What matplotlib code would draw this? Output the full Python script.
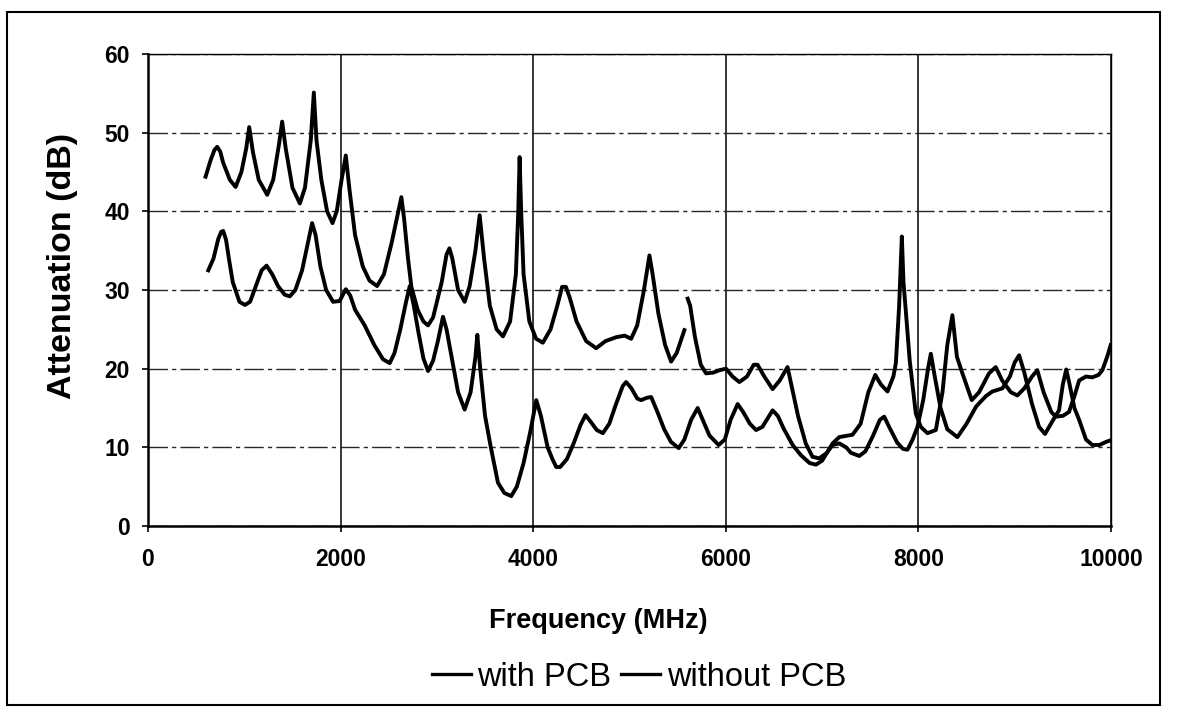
import numpy as np
import matplotlib
matplotlib.use("Agg")
import matplotlib.pyplot as plt
from matplotlib.patches import Rectangle

# frequency (MHz) / attenuation (dB)
# NaN marks the short break in the upper trace near 5.6 GHz
freq_a = [598, 650, 690, 719, 750, 780, 850, 910, 970, 1020, 1051, 1090, 1150, 1238, 1300,
          1360, 1393, 1430, 1500, 1577, 1630, 1690, 1722, 1750, 1800, 1860, 1916, 1960,
          2010, 2054, 2090, 2150, 2230, 2300, 2379, 2450, 2530, 2600, 2631, 2660, 2700,
          2735, 2800, 2860, 2908, 2960, 3050, 3100, 3130, 3160, 3220, 3288, 3340, 3400,
          3444, 3490, 3550, 3620, 3686, 3760, 3820, 3845, 3859, 3875, 3900, 3960, 4030,
          4100, 4180, 4250, 4300, 4340, 4380, 4450, 4550, 4654, 4750, 4862, 4950, 5017,
          5080, 5150, 5207, 5240, 5300, 5370, 5432, 5490, 5540, 5570, 5587, 5604, 5630,
          5680, 5740, 5795, 5870, 5933, 6002, 6070, 6141, 6220, 6290, 6330, 6400, 6486,
          6560, 6641, 6680, 6750, 6830, 6900, 6971, 7050, 7109, 7178, 7316, 7400, 7480,
          7552, 7610, 7679, 7740, 7766, 7800, 7828, 7845, 7863, 7910, 7973, 8025, 8094,
          8181, 8250, 8300, 8353, 8400, 8457, 8554, 8630, 8733, 8803, 8870, 8960, 9028,
          9100, 9180, 9235, 9300, 9380, 9425, 9500, 9564, 9620, 9669, 9740, 9806, 9870,
          9910, 9960, 9997]
att_a = [44.4, 46.5, 47.8, 48.2, 47.6, 46.2, 44.0, 43.1, 45.0, 48.0, 50.7, 47.5, 44.0, 42.1,
         44.0, 48.5, 51.4, 48.0, 43.0, 41.0, 43.0, 49.0, 55.1, 49.0, 44.0, 40.0, 38.5,
         40.0, 44.0, 47.1, 43.0, 37.0, 33.0, 31.2, 30.5, 32.0, 36.0, 40.0, 41.8, 39.0,
         34.0, 30.4, 27.5, 26.0, 25.5, 26.5, 31.0, 34.5, 35.3, 34.0, 30.0, 28.5, 30.5,
         35.0, 39.5, 34.0, 28.0, 25.0, 24.1, 26.0, 32.0, 40.0, 46.9, 40.0, 32.0, 26.0,
         23.8, 23.3, 25.0, 28.0, 30.4, 30.4, 29.0, 26.0, 23.5, 22.6, 23.5, 24.0, 24.2,
         23.8, 25.5, 30.0, 34.4, 32.0, 27.0, 23.0, 20.9, 22.0, 23.8, 24.9, np.nan, 28.9,
         28.0, 24.0, 20.5, 19.4, 19.5, 19.8, 20.0, 19.0, 18.3, 19.0, 20.5, 20.5, 19.0,
         17.4, 18.5, 20.2, 18.0, 14.0, 10.5, 8.8, 8.6, 9.3, 10.5, 11.3, 11.6, 13.0,
         17.0, 19.2, 18.0, 17.1, 19.0, 20.7, 28.0, 36.8, 31.0, 28.3, 21.0, 14.3, 12.6,
         11.8, 12.2, 17.0, 23.0, 26.8, 21.5, 19.4, 16.0, 17.0, 19.4, 20.2, 18.5, 17.0,
         16.6, 17.5, 19.0, 19.8, 17.0, 14.5, 13.9, 14.0, 14.5, 16.5, 18.5, 19.0, 18.9,
         19.2, 19.8, 21.5, 23.0]

freq_b = [626, 680, 730, 760, 781, 810, 840, 880, 950, 1006, 1060, 1120, 1180, 1231, 1290,
          1350, 1420, 1473, 1530, 1600, 1660, 1704, 1740, 1790, 1850, 1922, 1990, 2054,
          2100, 2150, 2250, 2350, 2440, 2510, 2560, 2620, 2680, 2718, 2760, 2810, 2860,
          2908, 2960, 3010, 3063, 3100, 3160, 3220, 3288, 3350, 3400, 3420, 3450, 3500,
          3560, 3634, 3700, 3772, 3830, 3900, 3970, 4032, 4080, 4150, 4200, 4239, 4280,
          4350, 4420, 4490, 4543, 4600, 4660, 4723, 4790, 4860, 4930, 4965, 5020, 5080,
          5121, 5180, 5225, 5290, 5360, 5430, 5511, 5570, 5640, 5708, 5760, 5830, 5926,
          5990, 6050, 6123, 6180, 6250, 6314, 6380, 6440, 6486, 6540, 6600, 6694, 6780,
          6870, 6936, 7000, 7060, 7109, 7178, 7250, 7300, 7386, 7450, 7530, 7600, 7645,
          7700, 7780, 7840, 7887, 7940, 7990, 8050, 8100, 8129, 8170, 8230, 8300, 8405,
          8500, 8600, 8700, 8768, 8872, 8950, 9000, 9046, 9100, 9180, 9253, 9315, 9400,
          9460, 9500, 9535, 9570, 9620, 9669, 9740, 9806, 9880, 9950, 9997]
att_b = [32.5, 34.0, 36.5, 37.4, 37.5, 36.4, 34.0, 31.0, 28.5, 28.1, 28.5, 30.5, 32.5, 33.1,
         32.0, 30.5, 29.4, 29.2, 30.0, 32.5, 36.0, 38.5, 37.0, 33.0, 30.0, 28.5, 28.6,
         30.1, 29.3, 27.5, 25.5, 23.0, 21.2, 20.7, 22.0, 25.0, 28.5, 30.5, 28.0, 24.5,
         21.3, 19.7, 21.0, 23.5, 26.6, 25.0, 21.0, 17.0, 14.8, 17.0, 21.5, 24.3, 20.0,
         14.0, 10.0, 5.5, 4.2, 3.8, 5.0, 8.0, 12.0, 16.0, 14.0, 10.0, 8.5, 7.5, 7.5,
         8.5, 10.5, 12.8, 14.1, 13.2, 12.2, 11.8, 13.0, 15.5, 17.8, 18.3, 17.5, 16.2,
         16.0, 16.3, 16.4, 14.5, 12.3, 10.7, 9.9, 11.0, 13.5, 15.0, 13.5, 11.5, 10.3,
         11.0, 13.5, 15.5, 14.5, 13.0, 12.2, 12.6, 13.8, 14.7, 14.0, 12.4, 10.3, 9.0,
         8.0, 7.8, 8.3, 9.5, 10.3, 10.5, 10.0, 9.3, 8.9, 9.5, 11.5, 13.5, 13.9,
         12.5, 10.6, 9.8, 9.7, 11.0, 12.6, 16.0, 20.0, 21.9, 19.0, 15.0, 12.3, 11.3,
         13.0, 15.2, 16.5, 17.1, 17.5, 19.0, 20.8, 21.7, 19.5, 15.5, 12.6, 11.7, 13.5,
         14.7, 18.0, 19.9, 18.0, 15.0, 13.5, 11.0, 10.3, 10.3, 10.7, 10.9]

x_ticks = [0, 2000, 4000, 6000, 8000, 10000]
y_ticks = [0, 10, 20, 30, 40, 50, 60]

plt.rcParams['font.family'] = ['Liberation Sans', 'DejaVu Sans']

fig = plt.figure(figsize=(11.77, 7.10), dpi=100)
ax = fig.add_axes([148 / 1177, 184 / 710, 963 / 1177, 472 / 710])

ax.plot(freq_a, att_a, color='black', lw=2.8, label='with PCB', solid_joinstyle='round')
ax.plot(freq_b, att_b, color='black', lw=2.8, label='without PCB', solid_joinstyle='round')

ax.set_xlim(0, 10000)
ax.set_ylim(0, 60)
ax.set_xticks(x_ticks)
ax.set_yticks(y_ticks)
ax.tick_params(axis='both', direction='out', length=4, width=1.2, labelsize=16.5)
ax.tick_params(axis='x', pad=12)
ax.tick_params(axis='y', pad=9)
for lab in ax.get_xticklabels() + ax.get_yticklabels():
    lab.set_fontweight('bold')

# grid: solid verticals, broken horizontals like the scan
ax.xaxis.grid(True, color='black', lw=1.1)
ax.yaxis.grid(True, color='0.15', lw=1.0, linestyle=(0, (14, 3, 3, 3)))
ax.set_axisbelow(True)
for side in ['left', 'bottom']:
    ax.spines[side].set_linewidth(1.8)
for side in ['top', 'right']:
    ax.spines[side].set_linewidth(1.0)

ax.set_xlabel('Frequency (MHz)', fontsize=19.5, fontweight='bold')
ax.xaxis.set_label_coords((598 - 148) / 963, -(621 - 526) / 472)
ax.xaxis.label.set_va('center')
fig.text(63 / 1177, 1 - 266 / 710, 'Attenuation (dB)', rotation=90,
         fontsize=24.5, fontweight='bold', ha='center', va='center')

leg = fig.legend(loc='center', bbox_to_anchor=(639 / 1177, 1 - 677 / 710), ncol=2,
                 frameon=False, fontsize=23.5, handlelength=1.2, handletextpad=0.2,
                 columnspacing=0.3, borderpad=0)
for h in leg.get_lines():
    h.set_linewidth(2.4)

# outer chart border
fig.patches.append(Rectangle((7 / 1177, 5 / 710), 1153 / 1177, 693 / 710,
                             transform=fig.transFigure, fill=False,
                             edgecolor='black', lw=1.5))

fig.savefig('out.png', dpi=100)
